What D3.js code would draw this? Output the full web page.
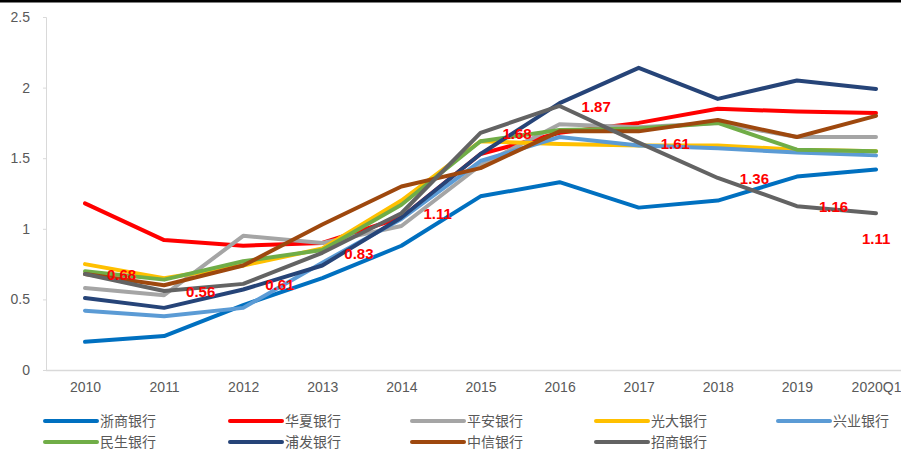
<!DOCTYPE html>
<html>
<head>
<meta charset="utf-8">
<script src="https://cdn.jsdelivr.net/npm/d3@7"></script>
<style>
  body { margin: 0; background: #fff; }
  svg { display: block; font-family: "Noto Sans CJK SC", "Liberation Sans", sans-serif; }
</style>
</head>
<body>
<svg id="chart" width="901" height="452"></svg>
<script>
// categories on the x axis
var years = ["2010","2011","2012","2013","2014","2015","2016","2017","2018","2019","2020Q1"];
var yTicks = [0, 0.5, 1, 1.5, 2, 2.5];

// one array per bank
var zheshang = [0.20, 0.24, 0.46, 0.65, 0.88, 1.23, 1.33, 1.15, 1.20, 1.37, 1.42];
var huaxia   = [1.18, 0.92, 0.88, 0.90, 1.08, 1.53, 1.68, 1.75, 1.85, 1.83, 1.82];
var pingan   = [0.58, 0.53, 0.95, 0.90, 1.02, 1.45, 1.74, 1.72, 1.75, 1.65, 1.65];
var guangda  = [0.75, 0.65, 0.74, 0.86, 1.20, 1.62, 1.60, 1.59, 1.59, 1.56, 1.55];
var xingye   = [0.42, 0.38, 0.44, 0.76, 1.07, 1.48, 1.65, 1.59, 1.57, 1.54, 1.52];
var minsheng = [0.70, 0.64, 0.77, 0.85, 1.17, 1.62, 1.70, 1.71, 1.75, 1.56, 1.55];
var pufa     = [0.51, 0.44, 0.57, 0.74, 1.08, 1.53, 1.89, 2.14, 1.92, 2.05, 1.99];
var zhongxin = [0.68, 0.60, 0.74, 1.03, 1.30, 1.43, 1.69, 1.69, 1.77, 1.65, 1.80];
var zhaoshang= [0.68, 0.56, 0.61, 0.83, 1.11, 1.68, 1.87, 1.61, 1.36, 1.16, 1.11];

var names  = ["浙商银行","华夏银行","平安银行","光大银行","兴业银行","民生银行","浦发银行","中信银行","招商银行"];
var values = [zheshang, huaxia, pingan, guangda, xingye, minsheng, pufa, zhongxin, zhaoshang];
var colors = ["#0070C0","#FF0000","#A5A5A5","#FFC000","#5B9BD5","#70AD47","#264478","#9E480E","#636363"];

var svg = d3.select("#chart");

// black rule at the top
svg.append("rect").attr("x", 0).attr("y", 0).attr("width", 901).attr("height", 2.5).attr("fill", "#000");

var x = d3.scalePoint().domain(years).range([85, 876]);
var y = d3.scaleLinear().domain([0, 2.5]).range([370, 17]);

// y axis
var yAxis = svg.append("g").attr("transform", "translate(46,0)")
  .call(d3.axisLeft(y).tickValues(yTicks).tickSize(3).tickPadding(13).tickFormat(function(d){ return String(d); }));
yAxis.select(".domain").attr("stroke", "#d9d9d9").attr("d", "M-3,17.5H0.5V370");
yAxis.selectAll(".tick line").attr("stroke", "#d9d9d9");
yAxis.selectAll(".tick text").attr("fill", "#595959").style("font-size", "14px")
  .style("font-family", "Liberation Sans, sans-serif");

// x axis
var xAxis = svg.append("g").attr("transform", "translate(0,370)")
  .call(d3.axisBottom(x).tickSize(0).tickPadding(12));
xAxis.select(".domain").attr("stroke", "#d9d9d9").attr("stroke-width", 1.5).attr("d", "M46,0.5H901");
xAxis.selectAll(".tick text").attr("fill", "#595959").style("font-size", "14px")
  .style("font-family", "Liberation Sans, sans-serif");

var line = d3.line()
  .x(function(d, i){ return x(years[i]); })
  .y(function(d){ return y(d); });

values.forEach(function(v, k){
  svg.append("path")
    .datum(v)
    .attr("d", line)
    .attr("fill", "none")
    .attr("stroke", colors[k])
    .attr("stroke-width", 4)
    .attr("stroke-linejoin", "round")
    .attr("stroke-linecap", "round");
});

// data labels of 招商银行
svg.append("g").selectAll("text")
  .data(zhaoshang)
  .enter().append("text")
  .attr("x", function(d, i){ return i == years.length - 1 ? x(years[i]) - 14 : x(years[i]) + 22; })
  .attr("y", function(d, i){ return i == years.length - 1 ? y(d) + 31 : y(d) + 6; })
  .attr("fill", "#FF0000")
  .style("font-family", "Liberation Sans, sans-serif")
  .style("font-size", "15px")
  .style("font-weight", "bold")
  .text(function(d){ return d.toFixed(2); });

// legend
var legX = [43, 228, 410, 594, 776];
var legend = svg.append("g").selectAll("g")
  .data(names)
  .enter().append("g")
  .attr("transform", function(d, i){ return "translate(" + legX[i % 5] + "," + (i < 5 ? 421 : 442) + ")"; });
legend.append("line")
  .attr("x1", 2).attr("x2", 54).attr("y1", 0).attr("y2", 0)
  .attr("stroke", function(d, i){ return colors[i]; })
  .attr("stroke-width", 4)
  .attr("stroke-linecap", "round");
legend.append("text")
  .attr("x", 57).attr("y", 5)
  .attr("fill", "#595959")
  .style("font-size", "14px")
  .text(function(d){ return d; });
</script>
</body>
</html>
